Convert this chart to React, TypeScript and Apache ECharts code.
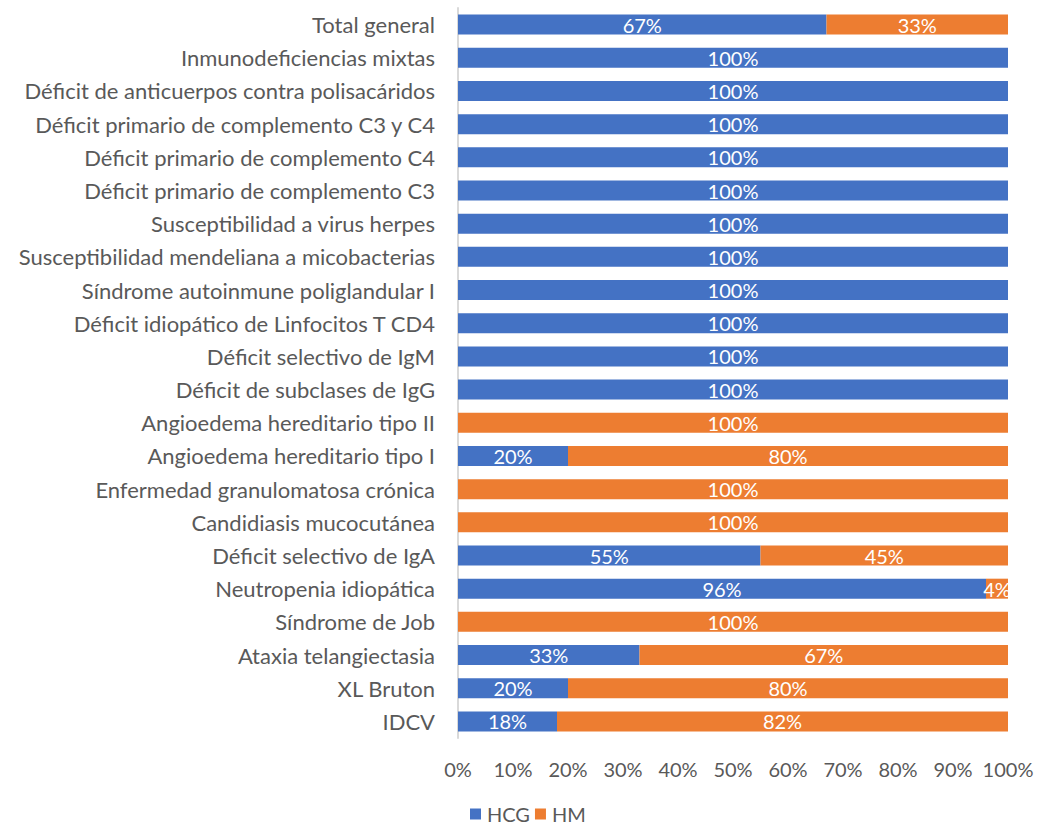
import React, { useEffect, useRef } from "react";
import * as echarts from "echarts";

const categories = [
  "IDCV",
  "XL Bruton",
  "Ataxia telangiectasia",
  "Síndrome de Job",
  "Neutropenia idiopática",
  "Déficit selectivo de IgA",
  "Candidiasis mucocutánea",
  "Enfermedad granulomatosa crónica",
  "Angioedema hereditario tipo I",
  "Angioedema hereditario tipo II",
  "Déficit de subclases de IgG",
  "Déficit selectivo de IgM",
  "Déficit idiopático de Linfocitos T CD4",
  "Síndrome autoinmune poliglandular I",
  "Susceptibilidad mendeliana a micobacterias",
  "Susceptibilidad a virus herpes",
  "Déficit primario de complemento C3",
  "Déficit primario de complemento C4",
  "Déficit primario de complemento C3 y C4",
  "Déficit de anticuerpos contra polisacáridos",
  "Inmunodeficiencias mixtas",
  "Total general",
];

const hcg = [18, 20, 33, 0, 96, 55, 0, 0, 20, 0, 100, 100, 100, 100, 100, 100, 100, 100, 100, 100, 100, 67];
const hm = [82, 80, 67, 100, 4, 45, 100, 100, 80, 100, 0, 0, 0, 0, 0, 0, 0, 0, 0, 0, 0, 33];

const FONT = "Lato";

export default function App() {
  const ref = useRef<HTMLDivElement>(null);
  useEffect(() => {
    document.body.style.margin = "0";
    if (!ref.current) return;
    const chart = echarts.init(ref.current, null, { renderer: "svg" });
    const label = {
      show: true,
      position: "inside",
      color: "#ffffff",
      fontFamily: FONT,
      fontSize: 20,
      formatter: (p: any) => (p.value > 0 ? p.value + "%" : ""),
    };
    chart.setOption({
      animation: false,
      textStyle: { fontFamily: FONT },
      grid: { left: 458, right: 29, top: 8, bottom: 91, containLabel: false },
      legend: {
        top: 804,
        left: 470,
        padding: 0,
        itemWidth: 11,
        itemHeight: 11,
        itemGap: 5,
        icon: "rect",
        textStyle: { color: "#595959", fontSize: 20, fontFamily: FONT, padding: [0, 0, 0, 1] },
        data: ["HCG", "HM"],
      },
      xAxis: {
        type: "value",
        min: 0,
        max: 100,
        interval: 10,
        axisLabel: {
          formatter: "{value}%",
          color: "#595959",
          fontSize: 20,
          fontFamily: FONT,
          margin: 21,
        },
        axisLine: { show: false },
        axisTick: { show: false },
        splitLine: { show: false },
      },
      yAxis: {
        type: "category",
        data: categories,
        axisLine: { show: true, lineStyle: { color: "#d9d9d9", width: 2 } },
        axisTick: { show: false },
        axisLabel: {
          color: "#595959",
          fontSize: 22,
          fontFamily: FONT,
          margin: 23,
        },
      },
      series: [
        {
          name: "HCG",
          type: "bar",
          stack: "total",
          barWidth: 20,
          data: hcg,
          itemStyle: { color: "#4472C4" },
          label,
        },
        {
          name: "HM",
          type: "bar",
          stack: "total",
          barWidth: 20,
          data: hm,
          itemStyle: { color: "#ED7D31" },
          label,
        },
      ],
    });
    return () => chart.dispose();
  }, []);
  return <div ref={ref} style={{ width: 1037, height: 829 }} />;
}
